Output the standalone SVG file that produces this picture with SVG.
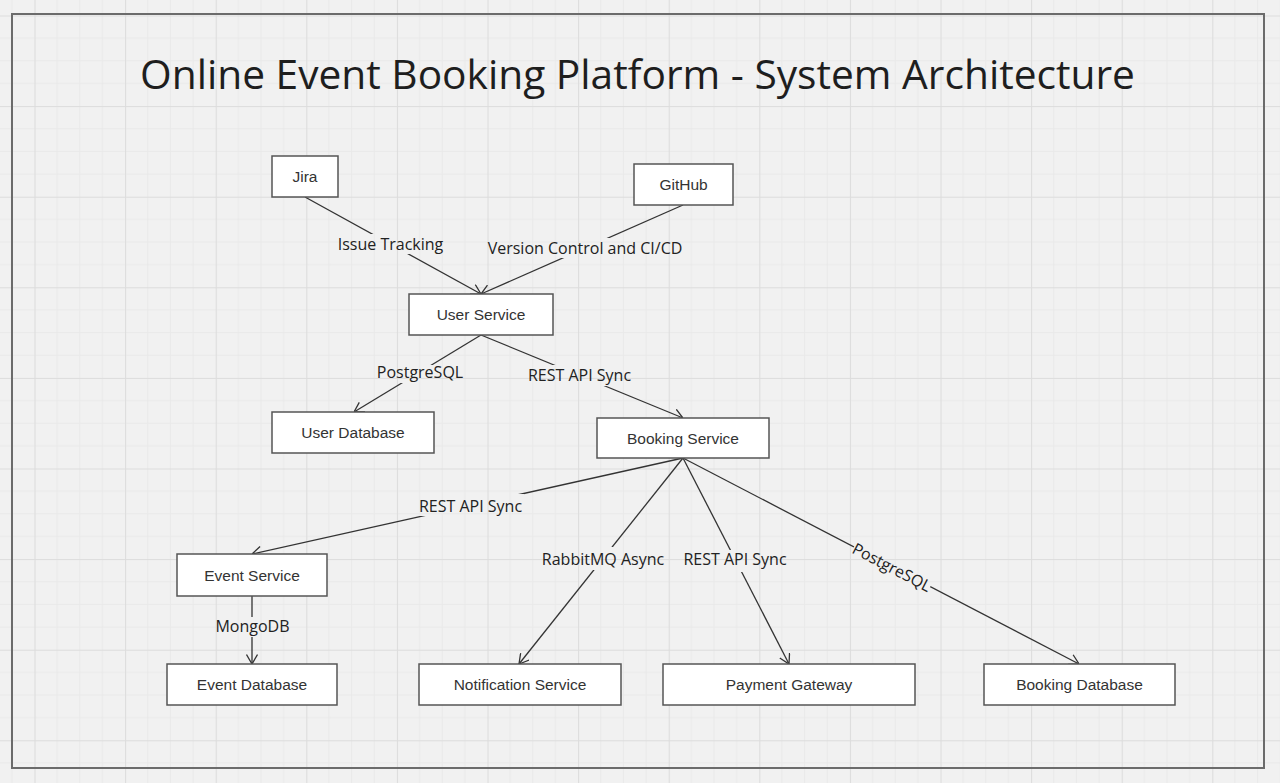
<svg xmlns="http://www.w3.org/2000/svg" width="1280" height="783" viewBox="0 0 1280 783">
<style>
.node rect{fill:#ffffff;stroke:#555555;stroke-width:1.5}
.node text{font-family:"Liberation Sans",Arial,sans-serif;font-size:15.5px;fill:#333333;text-anchor:middle;dominant-baseline:central}
.conn{fill:none;stroke:#333333;stroke-width:1.3;marker-end:url(#arrow)}
.lbl{font-family:"Open Sans","Noto Sans",sans-serif;font-size:16px;fill:#222222;text-anchor:middle}
.title{font-family:"Open Sans","Noto Sans",sans-serif;font-size:40.7px;fill:#1e1e1e;text-anchor:middle}
</style>
<defs>
<pattern id="grid" patternUnits="userSpaceOnUse" x="34.5" y="15.5" width="90.6" height="90.6">
<rect width="90.6" height="90.6" fill="#f1f1f1"/>
<path d="M22.65 0V90.6M45.3 0V90.6M67.95 0V90.6M0 22.65H90.6M0 45.3H90.6M0 67.95H90.6" stroke="#e9e9e9" stroke-width="1"/>
<path d="M0.5 0V90.6M0 0.5H90.6" stroke="#dcdcdc" stroke-width="1"/>
</pattern>
<marker id="arrow" viewBox="0 0 10 12" refX="10" refY="6" markerWidth="10" markerHeight="12" markerUnits="userSpaceOnUse" orient="auto">
<path d="M0.5 0.5L10 6L0.5 11.5" fill="none" stroke="#333333" stroke-width="1.3"/>
</marker>
<mask id="gaps" maskUnits="userSpaceOnUse" x="0" y="0" width="1280" height="783">
<rect width="1280" height="783" fill="#fff"/>
<rect x="335" y="234" width="111" height="20" fill="#000"/>
<rect x="486" y="238" width="198" height="20" fill="#000"/>
<rect x="375" y="365" width="90" height="18" fill="#000"/>
<rect x="526" y="365" width="107" height="21" fill="#000"/>
<rect x="417" y="494" width="107" height="22" fill="#000"/>
<rect x="540" y="547" width="126" height="23" fill="#000"/>
<rect x="681" y="550" width="108" height="22" fill="#000"/>
<rect x="849" y="557" width="86" height="20" fill="#000" transform="rotate(27.5 892 567)"/>
<rect x="213" y="617" width="79" height="20" fill="#000"/>
</mask>
</defs>
<rect width="1280" height="783" fill="url(#grid)"/>
<rect x="12" y="14" width="1252" height="754" fill="none" stroke="#6b6b6b" stroke-width="2"/>
<text class="title" x="637.5" y="89">Online Event Booking Platform - System Architecture</text>

<g id="connectors">
<g mask="url(#gaps)">
<path id="c-jira-user" class="conn" d="M305 197L481 294"/>
<path id="c-github-user" class="conn" d="M683 205L481 294"/>
<path id="c-user-userdb" class="conn" d="M481 335L354 412"/>
<path id="c-user-booking" class="conn" d="M481 335L683 418"/>
<path id="c-booking-event" class="conn" d="M683 458L252 554"/>
<path id="c-booking-notif" class="conn" d="M683 458L519 664"/>
<path id="c-booking-pay" class="conn" d="M683 458L789 664"/>
<path id="c-booking-bdb" class="conn" d="M683 458L1079 664"/>
<path id="c-event-edb" class="conn" d="M252 596L252 664"/>
</g>
<text class="lbl" x="390.5" y="250">Issue Tracking</text>
<text class="lbl" x="585" y="254">Version Control and CI/CD</text>
<text class="lbl" x="420" y="378">PostgreSQL</text>
<text class="lbl" x="579.5" y="381">REST API Sync</text>
<text class="lbl" x="470.5" y="512">REST API Sync</text>
<text class="lbl" x="603" y="565">RabbitMQ Async</text>
<text class="lbl" x="735" y="565">REST API Sync</text>
<text class="lbl" x="892" y="567" dominant-baseline="central" transform="rotate(27.5 892 567)">PostgreSQL</text>
<text class="lbl" x="252.5" y="632">MongoDB</text>
</g>

<g id="jira" class="node"><rect x="272" y="156" width="66" height="41"/><text x="305" y="176.5">Jira</text></g>
<g id="github" class="node"><rect x="634" y="164" width="99" height="41"/><text x="683.5" y="184.5">GitHub</text></g>
<g id="user-service" class="node"><rect x="409" y="294" width="144" height="41"/><text x="481" y="314.5">User Service</text></g>
<g id="user-database" class="node"><rect x="272" y="412" width="162" height="41"/><text x="353" y="432.5">User Database</text></g>
<g id="booking-service" class="node"><rect x="597" y="418" width="172" height="40"/><text x="683" y="438">Booking Service</text></g>
<g id="event-service" class="node"><rect x="177" y="554" width="150" height="42"/><text x="252" y="575">Event Service</text></g>
<g id="event-database" class="node"><rect x="167" y="664" width="170" height="41"/><text x="252" y="684.5">Event Database</text></g>
<g id="notification-service" class="node"><rect x="419" y="664" width="202" height="41"/><text x="520" y="684.5">Notification Service</text></g>
<g id="payment-gateway" class="node"><rect x="663" y="664" width="252" height="41"/><text x="789" y="684.5">Payment Gateway</text></g>
<g id="booking-database" class="node"><rect x="984" y="664" width="191" height="41"/><text x="1079.5" y="684.5">Booking Database</text></g>
</svg>
